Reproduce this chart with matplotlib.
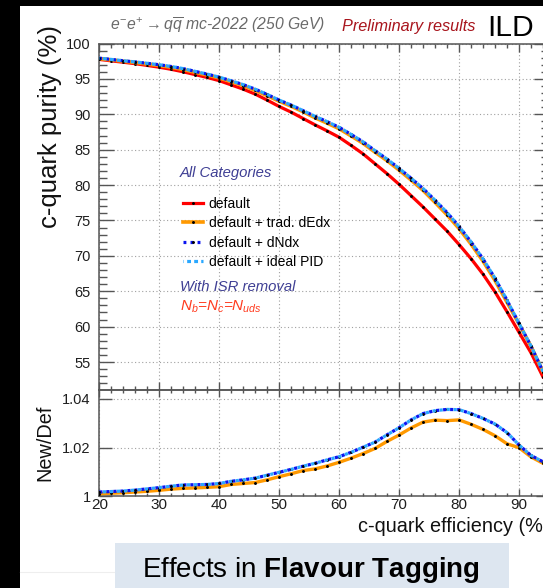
import matplotlib
matplotlib.use('Agg')
import matplotlib.pyplot as plt
from matplotlib.patches import Rectangle
from matplotlib.lines import Line2D
from matplotlib.ticker import MultipleLocator, FixedLocator, NullLocator

plt.rcParams['font.family'] = ['Liberation Sans', 'DejaVu Sans']
plt.rcParams['mathtext.fontset'] = 'custom'
plt.rcParams['mathtext.rm'] = 'Liberation Sans'
plt.rcParams['mathtext.it'] = 'Liberation Sans:italic'
plt.rcParams['mathtext.bf'] = 'Liberation Sans:bold'

# ---------------- data ----------------
efficiency = [20, 22, 24, 26, 28, 30, 32, 34, 36, 38, 40, 42, 44, 46, 48, 50, 52, 54, 56,
              58, 60, 62, 64, 66, 68, 70, 72, 74, 76, 78, 80, 82, 84, 86, 88, 90, 92, 94]

purity_default = [97.75, 97.55, 97.35, 97.15, 96.90, 96.65, 96.35, 96.00, 95.60, 95.20,
                  94.75, 94.15, 93.55, 92.85, 92.00, 91.10, 90.30, 89.40, 88.50, 87.65,
                  86.75, 85.60, 84.40, 83.00, 81.60, 80.10, 78.50, 76.90, 75.20, 73.50,
                  71.60, 69.60, 67.40, 64.90, 62.10, 59.20, 56.30, 52.90]

purity_dedx = [97.86, 97.68, 97.50, 97.32, 97.10, 96.89, 96.64, 96.32, 95.93, 95.55,
               95.13, 94.61, 94.05, 93.38, 92.63, 91.84, 91.14, 90.35, 89.50, 88.75,
               87.96, 86.94, 85.89, 84.64, 83.44, 82.12, 80.71, 79.25, 77.55, 75.79,
               73.85, 71.66, 69.25, 66.52, 63.44, 60.38, 57.21, 53.62]

purity_dndx = [97.93, 97.75, 97.56, 97.40, 97.20, 97.00, 96.75, 96.45, 96.06, 95.67,
               95.25, 94.73, 94.19, 93.55, 92.80, 92.00, 91.30, 90.51, 89.70, 88.96,
               88.16, 87.15, 86.10, 84.85, 83.66, 82.36, 80.96, 79.51, 77.85, 76.12,
               74.15, 71.97, 69.56, 66.83, 63.73, 60.45, 57.25, 53.65]

purity_ideal = [97.93, 97.75, 97.56, 97.40, 97.20, 97.00, 96.75, 96.45, 96.06, 95.67,
                95.25, 94.73, 94.19, 93.55, 92.80, 92.00, 91.30, 90.51, 89.70, 88.96,
                88.16, 87.15, 86.10, 84.85, 83.66, 82.36, 80.96, 79.51, 77.85, 76.12,
                74.15, 71.97, 69.56, 66.83, 63.73, 60.45, 57.25, 53.65]

ratio_dedx = [1.0011, 1.0013, 1.0015, 1.0018, 1.0021, 1.0025, 1.0030, 1.0033, 1.0035, 1.0037,
              1.0040, 1.0049, 1.0053, 1.0057, 1.0068, 1.0081, 1.0093, 1.0106, 1.0113, 1.0125,
              1.0140, 1.0157, 1.0176, 1.0197, 1.0226, 1.0252, 1.0281, 1.0305, 1.0313, 1.0311,
              1.0314, 1.0296, 1.0275, 1.0249, 1.0216, 1.0200, 1.0162, 1.0136]

ratio_dndx = [1.0018, 1.0020, 1.0022, 1.0026, 1.0031, 1.0036, 1.0042, 1.0047, 1.0048, 1.0049,
              1.0053, 1.0062, 1.0068, 1.0075, 1.0087, 1.0099, 1.0111, 1.0124, 1.0136, 1.0150,
              1.0163, 1.0181, 1.0202, 1.0223, 1.0253, 1.0282, 1.0314, 1.0340, 1.0352, 1.0357,
              1.0356, 1.0340, 1.0320, 1.0297, 1.0262, 1.0211, 1.0168, 1.0142]

ratio_ideal = [1.0018, 1.0020, 1.0022, 1.0026, 1.0031, 1.0036, 1.0042, 1.0047, 1.0048, 1.0049,
               1.0053, 1.0062, 1.0068, 1.0075, 1.0087, 1.0099, 1.0111, 1.0124, 1.0136, 1.0150,
               1.0163, 1.0181, 1.0202, 1.0223, 1.0253, 1.0282, 1.0314, 1.0340, 1.0352, 1.0357,
               1.0356, 1.0340, 1.0320, 1.0297, 1.0262, 1.0211, 1.0168, 1.0142]

series_labels = ['default', 'default + trad. dEdx', 'default + dNdx', 'default + ideal PID']
purity_ticks = [55, 60, 65, 70, 75, 80, 85, 90, 95, 100]
eff_ticks = [20, 30, 40, 50, 60, 70, 80, 90]
ratio_ticks = [1.0, 1.02, 1.04]
ratio_ticklabels = ['1', '1.02', '1.04']

# ---------------- layout ----------------
W, H = 543, 588
fig = plt.figure(figsize=(W / 100, H / 100), dpi=100, facecolor='black')


def fx(px):
    return px / W


def fy(py):
    return 1 - py / H


# slide background
fig.add_artist(Rectangle((fx(19.5), 0), 1 - fx(19.5), fy(6), transform=fig.transFigure,
                         facecolor='white', edgecolor='none', zorder=-10))
fig.add_artist(Line2D([fx(19.5), fx(114.5)], [fy(571.7), fy(571.7)], transform=fig.transFigure,
                      color='#eeeeee', lw=0.8, zorder=-9))
fig.add_artist(Rectangle((fx(114.5), 0), fx(508.8) - fx(114.5), fy(542.7), transform=fig.transFigure,
                         facecolor='#dde6f0', edgecolor='none', zorder=-8))
fig.text(fx(310.8), fy(576.7), r'Effects in $\mathbf{Flavour\ Tagging}$', ha='center', va='baseline',
         fontsize=20, color='black')

ax1 = fig.add_axes([fx(99.3), fy(389.7), fx(549) - fx(99.3), (389.7 - 43.5) / H])
ax2 = fig.add_axes([fx(99.3), fy(496.4), fx(549) - fx(99.3), (496.4 - 389.7) / H])

spine_col = '#555555'
for ax in (ax1, ax2):
    ax.set_facecolor('none')
    for s in ax.spines.values():
        s.set_color(spine_col)
        s.set_linewidth(1.1)
    ax.grid(True, which='major', color='#a0a0a0', linestyle=(0, (1, 2.2)), linewidth=0.8)
    ax.set_axisbelow(True)
    ax.set_xlim(20, 95)
    ax.xaxis.set_major_locator(FixedLocator(eff_ticks))
    ax.xaxis.set_minor_locator(MultipleLocator(2))
    ax.tick_params(which='both', direction='in', top=True, right=True, color=spine_col,
                   labelcolor='#1e1e1e', width=1.0)

# ---- top panel ----
ax1.set_ylim(51.09, 100)
ax1.yaxis.set_major_locator(FixedLocator(purity_ticks))
ax1.yaxis.set_minor_locator(MultipleLocator(1))
ax1.tick_params(axis='y', which='major', length=11, pad=6.2, labelsize=10.5)
ax1.tick_params(axis='y', which='minor', length=5.5)
ax1.tick_params(axis='x', which='major', length=5.5, labelbottom=False)
ax1.tick_params(axis='x', which='minor', length=2.8)

mk = dict(marker='.', markersize=2.2, markerfacecolor='black', markeredgecolor='black')
l0, = ax1.plot(efficiency, purity_default, color='#ff0000', lw=2.3, zorder=3, **mk)
l1, = ax1.plot(efficiency, purity_dedx, color='#ff9900', lw=2.6, zorder=4, **mk)
l2, = ax1.plot(efficiency, purity_dndx, color='#0a14f0', lw=2.3, zorder=5,
               linestyle=(0, (0.9, 1.3)), **mk)
l3, = ax1.plot(efficiency, purity_ideal, color='#2aa8ff', lw=2.3, zorder=6,
               linestyle=(1.05, (1.2, 1.0)))

leg = ax1.legend([l0, l1, l2, l3], series_labels, loc='upper left',
                 bbox_to_anchor=(fx(183), fy(197)), bbox_transform=fig.transFigure,
                 frameon=False, fontsize=10, handlelength=1.45, handletextpad=0.4,
                 labelspacing=0.38, borderpad=0, borderaxespad=0, numpoints=1)

# text annotations inside the plot
note_col = '#3f3f94'
fig.text(fx(180), fy(172.7), 'All Categories', ha='left', va='center', style='italic',
         fontsize=10.7, color=note_col)
fig.text(fx(180), fy(286.7), 'With ISR removal', ha='left', va='center', style='italic',
         fontsize=10.7, color=note_col)
fig.text(fx(180), fy(306.7), r'$N_{b}$=$N_{c}$=$N_{uds}$', ha='left', va='center', style='italic',
         fontsize=11, color='#ff3b1f')

# header
fig.text(fx(110.3), fy(30.5), r'$e^{-}e^{+} \rightarrow q\overline{q}$ mc-2022 (250 GeV)',
         ha='left', va='baseline', style='italic', fontsize=11.3, color='#6a6a6a')
fig.text(fx(341.7), fy(30.5), 'Preliminary results', ha='left', va='baseline', style='italic',
         fontsize=11.7, color='#a8141c')
fig.text(fx(487.3), fy(35.5), 'ILD', ha='left', va='baseline', fontsize=21.6, color='black')

fig.text(fx(50.5), fy(25), 'c-quark purity (%)', rotation=90, ha='center', va='top',
         fontsize=18.5, color='#111111')

# ---- ratio panel ----
ax2.set_ylim(1.0, 1.0438)
ax2.yaxis.set_major_locator(FixedLocator(ratio_ticks))
ax2.set_yticklabels(ratio_ticklabels)
ax2.yaxis.set_minor_locator(NullLocator())
ax2.tick_params(axis='y', which='major', length=9.5, pad=6.2, labelsize=10.5)
ax2.tick_params(axis='x', which='major', length=5, pad=1.0, labelsize=11)
ax2.tick_params(axis='x', which='minor', length=2.5)

ax2.plot(efficiency, ratio_dedx, color='#ff9900', lw=2.4, zorder=4, **mk)
ax2.plot(efficiency, ratio_dndx, color='#0a14f0', lw=2.3, zorder=5, linestyle=(0, (1.0, 1.2)), **mk)
ax2.plot(efficiency, ratio_ideal, color='#2aa8ff', lw=2.3, zorder=6, linestyle=(1.1, (1.0, 1.2)))

fig.text(fx(45), fy(442.5), 'New/Def', rotation=90, ha='center', va='center', fontsize=14.3,
         color='#111111')
fig.text(fx(550), fy(527), 'c-quark efficiency (%)', ha='right', va='center', fontsize=14.3,
         color='#111111')

fig.savefig('out.png', dpi=100, facecolor=fig.get_facecolor())
